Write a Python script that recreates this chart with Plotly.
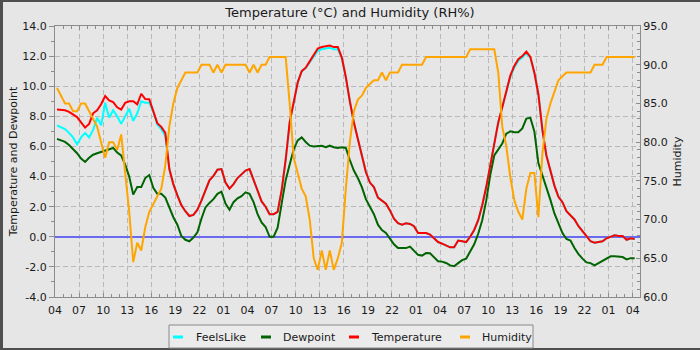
import pandas as pd
import plotly.graph_objects as go

# ---------------- data (half-hourly readings, starting 04:15 on day 1) ----------------
start_time = "2024-01-01 04:15"
n_points = 145

temperature = [
    8.45, 8.45, 8.4, 8.3, 8.1, 7.95, 7.6, 7.25,
    7.5, 8.2, 8.4, 8.8, 9.35, 9.05, 8.95, 8.6,
    8.45, 8.9, 9.0, 9.0, 8.8, 9.5, 9.15, 9.14,
    8.35, 7.55, 7.3, 6.9, 4.5, 3.5, 2.75, 2.1,
    1.7, 1.38, 1.45, 1.8, 2.4, 3.05, 3.75, 4.05,
    4.45, 4.5, 3.6, 3.2, 3.5, 3.9, 4.15, 4.4,
    4.5, 3.75, 3.0, 2.35, 2.0, 1.5, 1.5, 1.65,
    3.1, 5.1, 7.6, 8.9, 10.25, 11.0, 11.23, 11.65,
    12.1, 12.5, 12.6, 12.66, 12.7, 12.6, 12.6, 11.9,
    10.6, 9.0, 7.6, 6.5, 5.4, 4.3, 3.6, 3.3,
    2.6, 2.4, 2.2, 1.75, 1.2, 0.9, 0.8, 0.9,
    0.85, 0.7, 0.25, 0.25, 0.25, 0.15, -0.1, -0.35,
    -0.45, -0.55, -0.7, -0.7, -0.25, -0.3, -0.35, 0.0,
    0.45, 1.1, 2.1, 3.3, 4.7, 6.2, 7.6, 8.6,
    9.7, 10.7, 11.35, 11.8, 12.0, 12.3, 11.95, 10.9,
    9.47, 7.1, 5.4, 4.3, 3.4, 2.66, 2.3, 1.7,
    1.45, 1.15, 0.7, 0.4, 0.05, -0.3, -0.4, -0.35,
    -0.3, -0.1, 0.0, 0.1, 0.05, 0.05, -0.2, -0.1,
    -0.15,
]

feels_like = [
    7.4, 7.3, 7.15, 6.9, 6.6, 6.15, 6.6, 6.9,
    6.6, 7.1, 7.9, 7.4, 8.9, 7.9, 8.4, 8.0,
    7.5, 8.0, 8.5, 7.7, 8.2, 9.0, 8.9, 8.9,
    8.3, 7.45, 7.15, 6.7, 4.5, 3.5, 2.75, 2.1,
    1.7, 1.38, 1.45, 1.8, 2.4, 3.05, 3.75, 4.05,
    4.45, 4.5, 3.6, 3.2, 3.5, 3.9, 4.15, 4.4,
    4.5, 3.75, 3.0, 2.35, 2.0, 1.5, 1.5, 1.65,
    3.1, 5.1, 7.6, 8.9, 10.25, 11.0, 11.2, 11.6,
    11.95, 12.35, 12.45, 12.5, 12.55, 12.45, 12.45, 11.9,
    10.6, 9.0, 7.6, 6.5, 5.4, 4.3, 3.6, 3.3,
    2.6, 2.4, 2.2, 1.75, 1.2, 0.9, 0.8, 0.9,
    0.85, 0.7, 0.25, 0.25, 0.25, 0.15, -0.1, -0.35,
    -0.45, -0.55, -0.7, -0.7, -0.25, -0.3, -0.35, 0.0,
    0.45, 1.1, 2.1, 3.3, 4.7, 6.2, 7.6, 8.6,
    9.7, 10.6, 11.25, 11.7, 11.9, 12.2, 11.9, 10.9,
    9.47, 7.1, 5.4, 4.3, 3.4, 2.66, 2.3, 1.7,
    1.45, 1.15, 0.7, 0.4, 0.05, -0.3, -0.4, -0.35,
    -0.3, -0.1, 0.0, 0.1, 0.05, 0.05, -0.2, -0.1,
    -0.15,
]

dewpoint = [
    6.5, 6.4, 6.3, 6.1, 5.85, 5.55, 5.2, 4.97,
    5.25, 5.45, 5.55, 5.65, 5.75, 5.85, 5.9, 5.6,
    5.4, 4.8, 4.0, 2.8, 3.3, 3.3, 3.9, 4.1,
    3.25, 2.85, 2.85, 2.6, 1.9, 1.3, 0.8, 0.05,
    -0.2, -0.3, -0.05, 0.3, 1.2, 1.95, 2.25, 2.5,
    2.85, 3.0, 2.2, 1.8, 2.3, 2.55, 2.7, 2.95,
    2.85, 2.3, 1.5, 0.95, 0.65, 0.0, 0.0, 0.6,
    2.2, 3.76, 4.8, 5.8, 6.4, 6.6, 6.3, 6.05,
    6.0, 6.0, 6.05, 5.95, 6.05, 5.95, 5.9, 5.95,
    5.9, 5.1, 4.4, 3.9, 3.3, 2.5, 1.95, 1.5,
    0.8, 0.45, 0.25, -0.1, -0.5, -0.75, -0.75, -0.75,
    -0.65, -0.95, -1.2, -1.25, -1.08, -1.1, -1.4, -1.63,
    -1.65, -1.74, -1.9, -1.96, -1.75, -1.55, -1.45, -1.0,
    -0.5, 0.2, 1.1, 2.4, 4.1, 5.4, 5.8, 6.2,
    6.85, 7.0, 6.95, 6.95, 7.2, 7.85, 7.9, 7.0,
    4.9, 4.1, 3.4, 2.45, 1.55, 0.85, 0.25, -0.15,
    -0.25, -0.75, -1.15, -1.45, -1.7, -1.75, -1.9, -1.75,
    -1.6, -1.42, -1.3, -1.3, -1.3, -1.35, -1.5, -1.42,
    -1.42,
]

humidity = [
    87, 86, 85, 85, 84, 84, 85, 85,
    84, 83, 82, 80, 78, 80, 80, 79,
    81, 76, 71, 64.5, 67, 66, 69, 71,
    72, 73, 74, 77, 82, 85, 87, 88,
    89, 89, 89, 89, 90, 90, 90, 89,
    90, 89, 90, 90, 90, 90, 90, 90,
    89, 90, 89, 90, 90, 91, 91, 91,
    91, 91, 85, 78, 76, 74, 73, 70,
    65, 63.5, 66, 63.5, 66, 63.5, 65, 67,
    74, 80, 84, 85.5, 86, 87, 87.5, 88,
    88, 89, 88, 89, 89, 89, 90, 90,
    90, 90, 90, 90, 91, 91, 91, 91,
    91, 91, 91, 91, 91, 91, 91, 92,
    92, 92, 92, 92, 92, 92, 89, 82,
    79.5, 75.5, 72.5, 71, 70, 74, 76, 76,
    70.3, 78.5, 83, 85, 86.5, 88, 88.5, 89,
    89, 89, 89, 89, 89, 89, 90, 90,
    90, 91, 91, 91, 91, 91, 91, 91,
    91,
]

left_tick_values = [-4, -2, 0, 2, 4, 6, 8, 10, 12, 14]
left_tick_labels = ["-4.0", "-2.0", "0.0", "2.0", "4.0", "6.0", "8.0", "10.0", "12.0", "14.0"]
right_tick_values = [60, 65, 70, 75, 80, 85, 90, 95]
right_tick_labels = ["60.0", "65.0", "70.0", "75.0", "80.0", "85.0", "90.0", "95.0"]

series_names = ["FeelsLike", "Dewpoint", "Temperature", "Humidity"]
series_colors = ["#00ffff", "#006400", "#ff0000", "#ffa500"]

times = pd.date_range(start_time, periods=n_points, freq="30min")

# ---------------- geometry helpers ----------------
W, H = 700, 350
ML, MR, MT, MB = 55, 60, 26, 53
PW, PH = W - ML - MR, H - MT - MB


def px2x(px):
    return (px - ML) / PW


def py2y(py):
    return (H - MB - py) / PH


FONT = "DejaVu Sans"
AXIS_COL = "#8c8c8c"
GRID_COL = "#b9b9b9"
TEXT_COL = "#1a1a1a"

fig = go.Figure()
series_values = [feels_like, dewpoint, temperature]
for name, col, vals in zip(series_names[:3], series_colors[:3], series_values):
    fig.add_trace(go.Scatter(x=times, y=vals, mode="lines", name=name,
                             line=dict(color=col, width=2), showlegend=False))
fig.add_trace(go.Scatter(x=times, y=humidity, mode="lines", name=series_names[3],
                         line=dict(color=series_colors[3], width=2), yaxis="y2",
                         showlegend=False))

shapes = []
# outer dark frame (top, left, bottom)
frame_col = "#4f4f4f"
shapes.append(dict(type="line", xref="paper", yref="paper", x0=px2x(0), x1=px2x(W),
                   y0=py2y(1), y1=py2y(1), line=dict(color=frame_col, width=2), layer="above"))
shapes.append(dict(type="line", xref="paper", yref="paper", x0=px2x(1.5), x1=px2x(1.5),
                   y0=py2y(0), y1=py2y(H), line=dict(color=frame_col, width=3), layer="above"))
shapes.append(dict(type="line", xref="paper", yref="paper", x0=px2x(0), x1=px2x(W),
                   y0=py2y(349), y1=py2y(349), line=dict(color=frame_col, width=2), layer="above"))

# custom legend box
shapes.append(dict(type="rect", xref="paper", yref="paper", x0=px2x(169), x1=px2x(533),
                   y0=py2y(325), y1=py2y(348), line=dict(color="#8a8a8a", width=1),
                   fillcolor="#ebebeb", layer="above"))

legend_dash_px = [173, 261, 349, 460]
legend_text_px = [194, 281, 369, 480]
legend_y = 337
annotations = []
for name, col, dx, tx in zip(series_names, series_colors, legend_dash_px, legend_text_px):
    shapes.append(dict(type="line", xref="paper", yref="paper", x0=px2x(dx), x1=px2x(dx + 10),
                       y0=py2y(legend_y), y1=py2y(legend_y), line=dict(color=col, width=3),
                       layer="above"))
    annotations.append(dict(text=name, xref="paper", yref="paper", x=px2x(tx), y=py2y(legend_y),
                            xanchor="left", yanchor="middle", showarrow=False,
                            font=dict(family=FONT, size=11, color=TEXT_COL)))

fig.update_layout(
    width=W, height=H, autosize=False,
    margin=dict(l=ML, r=MR, t=MT, b=MB, pad=0),
    paper_bgcolor="#e6e6e6", plot_bgcolor="#e6e6e6",
    font=dict(family=FONT, size=11, color=TEXT_COL),
    title=dict(text="Temperature (°C) and Humidity (RH%)", x=0.5, xref="container",
               xanchor="center", y=1 - 12 / H, yref="container", yanchor="middle",
               font=dict(family=FONT, size=13, color=TEXT_COL)),
    showlegend=False,
    shapes=shapes,
    annotations=annotations,
    xaxis=dict(
        type="date",
        range=["2024-01-01 04:00", "2024-01-04 04:55"],
        tick0="2024-01-01 04:00", dtick=3 * 3600 * 1000, tickformat="%H",
        ticks="inside", ticklen=4, tickcolor=AXIS_COL, ticklabelstandoff=3,
        showline=True, linecolor=AXIS_COL, linewidth=1, mirror="ticks",
        showgrid=True, gridcolor=GRID_COL, griddash="5px,3px", gridwidth=1,
        zeroline=False,
        minor=dict(dtick=3600 * 1000, tick0="2024-01-01 04:00", ticks="inside",
                   ticklen=3, tickcolor=AXIS_COL, showgrid=False),
        tickfont=dict(family=FONT, size=11, color=TEXT_COL),
    ),
    yaxis=dict(
        range=[-4, 14], tickmode="array", tickvals=left_tick_values, ticktext=left_tick_labels,
        ticks="outside", ticklen=5, tickcolor=AXIS_COL,
        showline=True, linecolor=AXIS_COL, linewidth=1,
        showgrid=True, gridcolor=GRID_COL, griddash="5px,3px", gridwidth=1,
        zeroline=True, zerolinecolor="#6a6af0", zerolinewidth=2,
        minor=dict(tickmode="linear", tick0=0, dtick=1, ticks="outside", ticklen=3,
                   tickcolor=AXIS_COL, showgrid=False),
        title=dict(text="Temperature and Dewpoint", standoff=2,
                   font=dict(family=FONT, size=11, color=TEXT_COL)),
        tickfont=dict(family=FONT, size=11, color=TEXT_COL),
    ),
    yaxis2=dict(
        overlaying="y", side="right", range=[60, 95],
        tickmode="array", tickvals=right_tick_values, ticktext=right_tick_labels,
        ticks="inside", ticklen=4, tickcolor=AXIS_COL,
        showline=True, linecolor=AXIS_COL, linewidth=1,
        showgrid=False, zeroline=False,
        minor=dict(tickmode="linear", tick0=60, dtick=1, ticks="inside", ticklen=3,
                   tickcolor=AXIS_COL, showgrid=False),
        title=dict(text="Humidity", standoff=6,
                   font=dict(family=FONT, size=11, color=TEXT_COL)),
        tickfont=dict(family=FONT, size=11, color=TEXT_COL),
    ),
)

fig.write_html("out.html")
